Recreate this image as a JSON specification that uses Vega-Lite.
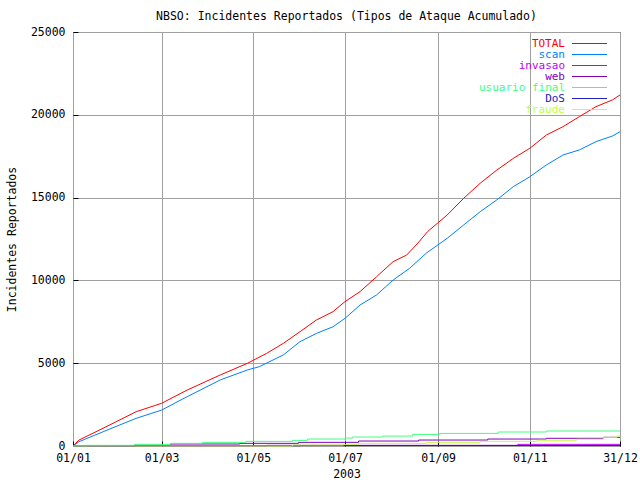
{
  "$schema": "https://vega.github.io/schema/vega-lite/v6.json",
  "width": 547,
  "height": 414,
  "autosize": {"type": "none"},
  "padding": {"left": 73, "top": 32, "right": 20, "bottom": 34},
  "background": "white",
  "config": {
    "view": {"stroke": "black", "strokeWidth": 1},
    "font": "DejaVu Sans Mono",
    "axis": {
      "labelFont": "DejaVu Sans Mono", "labelFontSize": 11.5, "labelColor": "black",
      "titleFont": "DejaVu Sans Mono", "titleFontSize": 11.5, "titleFontWeight": "normal", "titleColor": "black",
      "gridColor": "#a0a0a0", "gridOpacity": 1, "gridWidth": 1,
      "domain": false, "tickColor": "black", "tickSize": -5, "tickWidth": 1
    }
  },
  "title": {"text": "NBSO: Incidentes Reportados (Tipos de Ataque Acumulado)", "font": "DejaVu Sans Mono", "fontSize": 11.5, "fontWeight": "normal", "color": "black", "anchor": "middle", "offset": 4},
  "data": {"values": [
    {"d":"2003-01-01","s":"TOTAL","v":0},{"d":"2003-01-05","s":"TOTAL","v":360},{"d":"2003-01-21","s":"TOTAL","v":1070},{"d":"2003-02-12","s":"TOTAL","v":2070},{"d":"2003-03-01","s":"TOTAL","v":2580},{"d":"2003-03-18","s":"TOTAL","v":3380},{"d":"2003-04-09","s":"TOTAL","v":4290},{"d":"2003-04-27","s":"TOTAL","v":4990},{"d":"2003-05-10","s":"TOTAL","v":5600},{"d":"2003-05-21","s":"TOTAL","v":6200},{"d":"2003-06-01","s":"TOTAL","v":6900},{"d":"2003-06-12","s":"TOTAL","v":7610},{"d":"2003-06-23","s":"TOTAL","v":8110},{"d":"2003-07-01","s":"TOTAL","v":8720},{"d":"2003-07-11","s":"TOTAL","v":9320},{"d":"2003-07-22","s":"TOTAL","v":10220},{"d":"2003-08-02","s":"TOTAL","v":11130},{"d":"2003-08-11","s":"TOTAL","v":11530},{"d":"2003-08-18","s":"TOTAL","v":12200},{"d":"2003-08-25","s":"TOTAL","v":12950},{"d":"2003-09-07","s":"TOTAL","v":13950},{"d":"2003-09-18","s":"TOTAL","v":14960},{"d":"2003-09-29","s":"TOTAL","v":15870},{"d":"2003-10-10","s":"TOTAL","v":16660},{"d":"2003-10-21","s":"TOTAL","v":17370},{"d":"2003-11-01","s":"TOTAL","v":17980},{"d":"2003-11-12","s":"TOTAL","v":18780},{"d":"2003-11-23","s":"TOTAL","v":19280},{"d":"2003-12-04","s":"TOTAL","v":19890},{"d":"2003-12-15","s":"TOTAL","v":20490},{"d":"2003-12-26","s":"TOTAL","v":20900},{"d":"2003-12-31","s":"TOTAL","v":21200},
    {"d":"2003-01-01","s":"scan","v":0},{"d":"2003-01-05","s":"scan","v":260},{"d":"2003-01-21","s":"scan","v":860},{"d":"2003-02-12","s":"scan","v":1670},{"d":"2003-03-01","s":"scan","v":2170},{"d":"2003-03-18","s":"scan","v":2980},{"d":"2003-04-09","s":"scan","v":3990},{"d":"2003-04-27","s":"scan","v":4590},{"d":"2003-05-05","s":"scan","v":4790},{"d":"2003-05-21","s":"scan","v":5500},{"d":"2003-06-01","s":"scan","v":6300},{"d":"2003-06-12","s":"scan","v":6800},{"d":"2003-06-23","s":"scan","v":7200},{"d":"2003-07-01","s":"scan","v":7710},{"d":"2003-07-11","s":"scan","v":8510},{"d":"2003-07-22","s":"scan","v":9120},{"d":"2003-08-02","s":"scan","v":10020},{"d":"2003-08-13","s":"scan","v":10730},{"d":"2003-08-24","s":"scan","v":11640},{"d":"2003-09-07","s":"scan","v":12540},{"d":"2003-09-18","s":"scan","v":13350},{"d":"2003-09-29","s":"scan","v":14150},{"d":"2003-10-10","s":"scan","v":14860},{"d":"2003-10-21","s":"scan","v":15660},{"d":"2003-11-01","s":"scan","v":16260},{"d":"2003-11-12","s":"scan","v":16970},{"d":"2003-11-23","s":"scan","v":17570},{"d":"2003-12-04","s":"scan","v":17880},{"d":"2003-12-15","s":"scan","v":18380},{"d":"2003-12-26","s":"scan","v":18720},{"d":"2003-12-31","s":"scan","v":18980},
    {"d":"2003-01-01","s":"invasao","v":0},{"d":"2003-05-10","s":"invasao","v":40},{"d":"2003-10-24","s":"invasao","v":100},{"d":"2003-12-31","s":"invasao","v":110},
    {"d":"2003-01-01","s":"web","v":0},{"d":"2003-02-11","s":"web","v":40},{"d":"2003-03-07","s":"web","v":120},{"d":"2003-04-22","s":"web","v":160},{"d":"2003-05-31","s":"web","v":220},{"d":"2003-07-10","s":"web","v":300},{"d":"2003-08-19","s":"web","v":360},{"d":"2003-10-04","s":"web","v":420},{"d":"2003-11-12","s":"web","v":465},{"d":"2003-12-20","s":"web","v":525},{"d":"2003-12-31","s":"web","v":525},
    {"d":"2003-01-01","s":"usuario final","v":0},{"d":"2003-01-10","s":"usuario final","v":40},{"d":"2003-02-11","s":"usuario final","v":100},{"d":"2003-03-07","s":"usuario final","v":160},{"d":"2003-03-28","s":"usuario final","v":220},{"d":"2003-04-26","s":"usuario final","v":280},{"d":"2003-05-27","s":"usuario final","v":340},{"d":"2003-06-06","s":"usuario final","v":420},{"d":"2003-07-01","s":"usuario final","v":480},{"d":"2003-07-06","s":"usuario final","v":540},{"d":"2003-07-26","s":"usuario final","v":600},{"d":"2003-08-15","s":"usuario final","v":700},{"d":"2003-09-02","s":"usuario final","v":760},{"d":"2003-10-11","s":"usuario final","v":845},{"d":"2003-11-12","s":"usuario final","v":905},{"d":"2003-12-31","s":"usuario final","v":905},
    {"d":"2003-01-01","s":"DoS","v":0},{"d":"2003-02-11","s":"DoS","v":20},{"d":"2003-06-01","s":"DoS","v":30},{"d":"2003-12-31","s":"DoS","v":40},
    {"d":"2003-01-01","s":"fraude","v":0},{"d":"2003-05-27","s":"fraude","v":60},{"d":"2003-06-30","s":"fraude","v":100},{"d":"2003-07-10","s":"fraude","v":160},{"d":"2003-08-24","s":"fraude","v":220},{"d":"2003-09-29","s":"fraude","v":280},{"d":"2003-11-06","s":"fraude","v":345},{"d":"2003-12-02","s":"fraude","v":405},{"d":"2003-12-20","s":"fraude","v":525},{"d":"2003-12-29","s":"fraude","v":600},{"d":"2003-12-31","s":"fraude","v":600}
  ]},
  "encoding": {
    "x": {
      "field": "d", "type": "temporal", "title": "2003",
      "scale": {"type": "utc", "domain": [{"year": 2003, "month": 1, "date": 1, "utc": true}, {"year": 2003, "month": 12, "date": 31, "utc": true}]},
      "axis": {
        "values": [
          {"year": 2003, "month": 1, "date": 1, "utc": true},
          {"year": 2003, "month": 3, "date": 1, "utc": true},
          {"year": 2003, "month": 5, "date": 1, "utc": true},
          {"year": 2003, "month": 7, "date": 1, "utc": true},
          {"year": 2003, "month": 9, "date": 1, "utc": true},
          {"year": 2003, "month": 11, "date": 1, "utc": true},
          {"year": 2003, "month": 12, "date": 31, "utc": true}
        ],
        "format": "%d/%m", "labelPadding": 11, "labelFlush": false, "labelOverlap": false,
        "titleY": 28, "titleBaseline": "middle"
      }
    },
    "y": {
      "field": "v", "type": "quantitative", "title": "Incidentes Reportados",
      "scale": {"domain": [0, 25000], "nice": false},
      "axis": {"values": [0, 5000, 10000, 15000, 20000, 25000], "format": "d", "labelPadding": 13, "titleX": -61, "titleY": 207, "titleBaseline": "middle", "titleAlign": "center"}
    },
    "color": {
      "field": "s", "type": "nominal",
      "scale": {"domain": ["TOTAL", "scan", "invasao", "web", "usuario final", "DoS", "fraude"], "range": ["#ff0000", "#0080ff", "#c000ff", "#8000c0", "#40ff80", "#2020c0", "#c0ff40"]},
      "legend": {
        "orient": "none", "legendX": 511, "legendY": 6, "title": null, "padding": 0,
        "symbolType": "M-3.5,0H3.5", "symbolSize": 100, "symbolStrokeWidth": 1,
        "labelAlign": "right", "labelOffset": -30, "labelFont": "DejaVu Sans Mono", "labelFontSize": 11,
        "rowPadding": -5,
        "encode": {"labels": {"update": {"fill": {"scale": "color", "field": "value"}}}}
      }
    }
  },
  "layer": [
    {"transform": [{"filter": {"field": "s", "oneOf": ["TOTAL", "scan"]}}], "mark": {"type": "line", "strokeWidth": 1}},
    {"transform": [{"filter": {"field": "s", "oneOf": ["invasao", "web", "usuario final", "DoS", "fraude"]}}], "mark": {"type": "line", "strokeWidth": 1, "interpolate": "step-after"}}
  ]
}
